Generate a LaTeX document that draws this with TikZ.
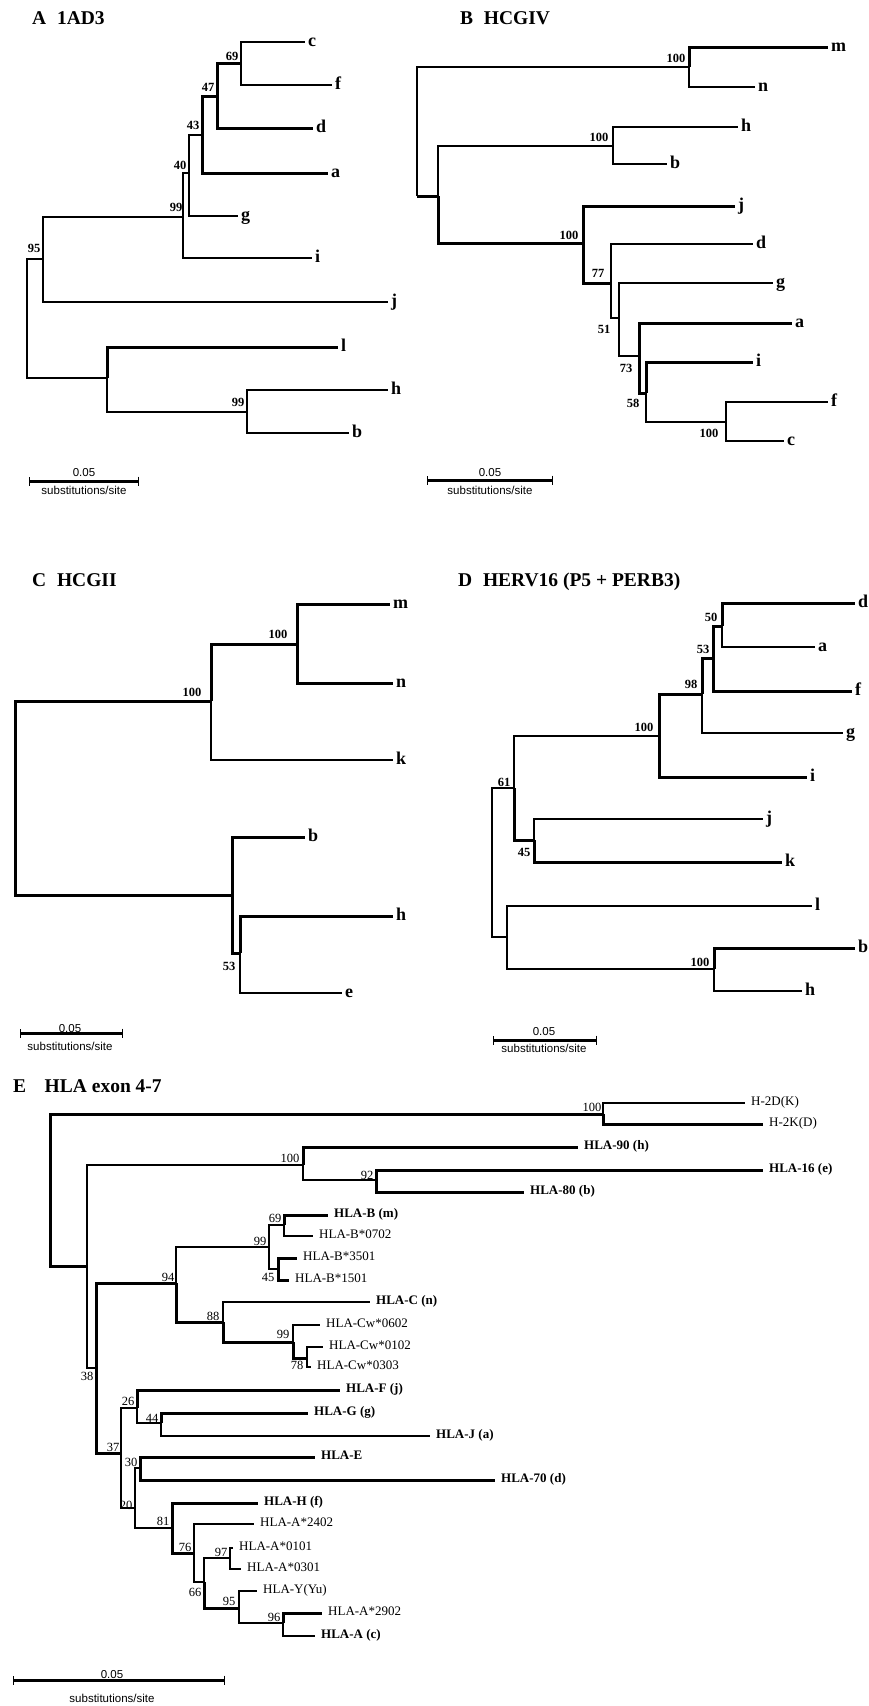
\documentclass[tikz,border=0pt]{standalone}
\usepackage{fontspec}
\setmainfont{Liberation Serif}
\setsansfont{Liberation Sans}
\usetikzlibrary{arrows.meta,positioning}

\tikzset{
  brthin/.style={line width=1.3pt},
  brthick/.style={line width=3pt},
  leaf/.style={anchor=west, inner xsep=3pt, inner ysep=0pt, text height=1.0em, text depth=0.1em, font=\fontsize{18}{18}\selectfont\bfseries},
  hla/.style={anchor=west, inner xsep=6pt, inner ysep=0pt, text height=0.7em, text depth=0.2em, font=\fontsize{13}{13}\selectfont},
  hlab/.style={hla, font=\fontsize{13}{13}\selectfont\bfseries},
  boot/.style={inner sep=0pt, font=\fontsize{12.5}{12.5}\selectfont\bfseries},
  bootE/.style={inner sep=0pt, font=\fontsize{12.5}{12.5}\selectfont},
  panel/.style={anchor=base west, inner sep=0pt, font=\fontsize{19.5}{19.5}\selectfont\bfseries},
  scalebar/.style={line width=3pt, {Bar[width=9pt,line width=1.3pt]}-{Bar[width=9pt,line width=1.3pt]}},
  scaletxt/.style={inner sep=0pt, font=\fontsize{11.5}{11.5}\selectfont\sffamily}
}

\begin{document}
\begin{tikzpicture}[x=1pt,y=-1pt]
  \useasboundingbox (0,0) rectangle (868,1706);

  % A 1AD3
  \node[panel] (tA) at (32,24) {A\hspace{0.55em}1AD3};
  \coordinate (rA) at (27,318);
  \coordinate (A95) at (43,259);
  \coordinate (A99) at (183,217);
  \coordinate (A40) at (189,173);
  \coordinate (A43) at (202,135);
  \coordinate (A47) at (217,96);
  \coordinate (A69) at (241,63);
  \coordinate (Alhb) at (107,378);
  \coordinate (A99b) at (247,412);
  \node[leaf] (Ac) at (305,42) {c};
  \node[leaf] (Af) at (332,85) {f};
  \node[leaf] (Ad) at (313,128) {d};
  \node[leaf] (Aa) at (328,173) {a};
  \node[leaf] (Ag) at (238,216) {g};
  \node[leaf] (Ai) at (312,258) {i};
  \node[leaf] (Aj) at (388,302) {j};
  \node[leaf] (Al) at (338,347) {l};
  \node[leaf] (Ah) at (388,390) {h};
  \node[leaf] (Ab) at (349,433) {b};
  \draw[brthin] (rA) |- (A95);
  \draw[brthin] (rA) |- (Alhb);
  \draw[brthin] (A95) |- (A99);
  \draw[brthin] (A95) |- (Aj.west);
  \draw[brthin] (A99) |- (A40);
  \draw[brthin] (A99) |- (Ai.west);
  \draw[brthin] (A40) |- (A43);
  \draw[brthin] (A40) |- (Ag.west);
  \draw[brthick] (A43) |- (A47);
  \draw[brthick] (A43) |- (Aa.west);
  \draw[brthick] (A47) |- (A69);
  \draw[brthick] (A47) |- (Ad.west);
  \draw[brthin] (A69) |- (Ac.west);
  \draw[brthin] (A69) |- (Af.west);
  \draw[brthick] (Alhb) |- (Al.west);
  \draw[brthin] (Alhb) |- (A99b);
  \draw[brthin] (A99b) |- (Ah.west);
  \draw[brthin] (A99b) |- (Ab.west);
  \node[boot] (lA95) at (34,248) {95};
  \node[boot] (lA99) at (176,207) {99};
  \node[boot] (lA40) at (180,165) {40};
  \node[boot] (lA43) at (193,125) {43};
  \node[boot] (lA47) at (208,87) {47};
  \node[boot] (lA69) at (232,56) {69};
  \node[boot] (lA99b) at (238,402) {99};
  % scale bar A
  \coordinate (sA1) at (29,481);
  \coordinate (sA2) at (139,481);
  \coordinate (sAm) at (84,481);
  \draw[scalebar] (sA1) -- (sA2);
  \node[scaletxt, above=4pt of sAm] (sAv) {0.05};
  \node[scaletxt, below=5pt of sAm] (sAu) {substitutions/site};

  % B HCGIV
  \node[panel] (tB) at (460,24) {B\hspace{0.55em}HCGIV};
  \coordinate (rB) at (417,196);
  \coordinate (Bmn) at (689,67);
  \coordinate (Blow) at (438,196);
  \coordinate (Bhb) at (613,146);
  \coordinate (Bj100) at (583,243);
  \coordinate (B77) at (611,283);
  \coordinate (B51) at (619,318);
  \coordinate (B73) at (639,356);
  \coordinate (B58) at (646,393);
  \coordinate (Bfc) at (726,422);
  \node[leaf] (Bm) at (828,47) {m};
  \node[leaf] (Bn) at (755,87) {n};
  \node[leaf] (Bh) at (738,127) {h};
  \node[leaf] (Bb) at (667,164) {b};
  \node[leaf] (Bj) at (735,206) {j};
  \node[leaf] (Bd) at (753,244) {d};
  \node[leaf] (Bg) at (773,283) {g};
  \node[leaf] (Ba) at (792,323) {a};
  \node[leaf] (Bi) at (753,362) {i};
  \node[leaf] (Bf) at (828,402) {f};
  \node[leaf] (Bc) at (784,441) {c};
  \draw[brthin] (rB) |- (Bmn);
  \draw[brthick] (rB) -- (Blow);
  \draw[brthick] (Bmn) |- (Bm.west);
  \draw[brthin] (Bmn) |- (Bn.west);
  \draw[brthin] (Blow) |- (Bhb);
  \draw[brthick] (Blow) |- (Bj100);
  \draw[brthin] (Bhb) |- (Bh.west);
  \draw[brthin] (Bhb) |- (Bb.west);
  \draw[brthick] (Bj100) |- (Bj.west);
  \draw[brthick] (Bj100) |- (B77);
  \draw[brthin] (B77) |- (Bd.west);
  \draw[brthin] (B77) |- (B51);
  \draw[brthin] (B51) |- (Bg.west);
  \draw[brthin] (B51) |- (B73);
  \draw[brthick] (B73) |- (Ba.west);
  \draw[brthick] (B73) |- (B58);
  \draw[brthick] (B58) |- (Bi.west);
  \draw[brthin] (B58) |- (Bfc);
  \draw[brthin] (Bfc) |- (Bf.west);
  \draw[brthin] (Bfc) |- (Bc.west);
  \node[boot] (lBmn) at (676,58) {100};
  \node[boot] (lBhb) at (599,137) {100};
  \node[boot] (lBj) at (569,235) {100};
  \node[boot] (lB77) at (598,273) {77};
  \node[boot] (lB51) at (604,329) {51};
  \node[boot] (lB73) at (626,368) {73};
  \node[boot] (lB58) at (633,403) {58};
  \node[boot] (lBfc) at (709,433) {100};
  % scale bar B
  \coordinate (sB1) at (427,480);
  \coordinate (sB2) at (553,480);
  \coordinate (sBm) at (490,480);
  \draw[scalebar] (sB1) -- (sB2);
  \node[scaletxt, above=3pt of sBm] (sBv) {0.05};
  \node[scaletxt, below=6pt of sBm] (sBu) {substitutions/site};

  % C HCGII
  \node[panel] (tC) at (32,586) {C\hspace{0.55em}HCGII};
  \coordinate (rC) at (15,798);
  \coordinate (Cup) at (211,701);
  \coordinate (Cmn) at (297,644);
  \coordinate (Clow) at (232,895);
  \coordinate (C53) at (240,953);
  \node[leaf] (Cm) at (390,604) {m};
  \node[leaf] (Cn) at (393,683) {n};
  \node[leaf] (Ck) at (393,760) {k};
  \node[leaf] (Cb) at (305,837) {b};
  \node[leaf] (Ch) at (393,916) {h};
  \node[leaf] (Ce) at (342,993) {e};
  \draw[brthick] (rC) |- (Cup);
  \draw[brthick] (rC) |- (Clow);
  \draw[brthick] (Cup) |- (Cmn);
  \draw[brthin] (Cup) |- (Ck.west);
  \draw[brthick] (Cmn) |- (Cm.west);
  \draw[brthick] (Cmn) |- (Cn.west);
  \draw[brthick] (Clow) |- (Cb.west);
  \draw[brthick] (Clow) |- (C53);
  \draw[brthick] (C53) |- (Ch.west);
  \draw[brthin] (C53) |- (Ce.west);
  \node[boot] (lCup) at (192,692) {100};
  \node[boot] (lCmn) at (278,634) {100};
  \node[boot] (lC53) at (229,966) {53};
  % scale bar C
  \coordinate (sC1) at (20,1033);
  \coordinate (sC2) at (123,1033);
  \coordinate (sCm) at (70,1033);
  \draw[scalebar] (sC1) -- (sC2);
  \node[scaletxt, above=0pt of sCm] (sCv) {0.05};
  \node[scaletxt, below=9pt of sCm] (sCu) {substitutions/site};

  % D HERV16 (P5 + PERB3)
  \node[panel] (tD) at (458,586) {D\hspace{0.55em}HERV16 (P5 + PERB3)};
  \coordinate (rD) at (492,862);
  \coordinate (D61) at (514,788);
  \coordinate (D100) at (659,736);
  \coordinate (D98) at (702,694);
  \coordinate (D53) at (713,658);
  \coordinate (D50) at (722,626);
  \coordinate (D45) at (534,840);
  \coordinate (Dlb) at (507,937);
  \coordinate (Dbh) at (714,969);
  \node[leaf] (Dd) at (855,603) {d};
  \node[leaf] (Da) at (815,647) {a};
  \node[leaf] (Df) at (852,691) {f};
  \node[leaf] (Dg) at (843,733) {g};
  \node[leaf] (Di) at (807,777) {i};
  \node[leaf] (Dj) at (763,819) {j};
  \node[leaf] (Dk) at (782,862) {k};
  \node[leaf] (Dl) at (812,906) {l};
  \node[leaf] (Db) at (855,948) {b};
  \node[leaf] (Dh) at (802,991) {h};
  \draw[brthin] (rD) |- (D61);
  \draw[brthin] (rD) |- (Dlb);
  \draw[brthin] (D61) |- (D100);
  \draw[brthick] (D61) |- (D45);
  \draw[brthick] (D100) |- (D98);
  \draw[brthick] (D100) |- (Di.west);
  \draw[brthick] (D98) |- (D53);
  \draw[brthin] (D98) |- (Dg.west);
  \draw[brthick] (D53) |- (D50);
  \draw[brthick] (D53) |- (Df.west);
  \draw[brthick] (D50) |- (Dd.west);
  \draw[brthin] (D50) |- (Da.west);
  \draw[brthin] (D45) |- (Dj.west);
  \draw[brthick] (D45) |- (Dk.west);
  \draw[brthin] (Dlb) |- (Dl.west);
  \draw[brthin] (Dlb) |- (Dbh);
  \draw[brthick] (Dbh) |- (Db.west);
  \draw[brthin] (Dbh) |- (Dh.west);
  \node[boot] (lD61) at (504,782) {61};
  \node[boot] (lD100) at (644,727) {100};
  \node[boot] (lD98) at (691,684) {98};
  \node[boot] (lD53) at (703,649) {53};
  \node[boot] (lD50) at (711,617) {50};
  \node[boot] (lD45) at (524,852) {45};
  \node[boot] (lDbh) at (700,962) {100};
  % scale bar D
  \coordinate (sD1) at (493,1040);
  \coordinate (sD2) at (597,1040);
  \coordinate (sDm) at (544,1040);
  \draw[scalebar] (sD1) -- (sD2);
  \node[scaletxt, above=4pt of sDm] (sDv) {0.05};
  \node[scaletxt, below=4pt of sDm] (sDu) {substitutions/site};

  % E HLA exon 4-7
  \node[panel] (tE) at (13,1092) {E\hspace{0.95em}HLA exon 4-7};
  \coordinate (rE) at (50,1190);
  \coordinate (EH2) at (603,1114);
  \coordinate (EX) at (87,1266);
  \coordinate (E100) at (303,1165);
  \coordinate (E92) at (376,1180);
  \coordinate (E38) at (96,1368);
  \coordinate (E94) at (176,1283);
  \coordinate (E99B) at (269,1247);
  \coordinate (E69) at (284,1225);
  \coordinate (E45) at (278,1269);
  \coordinate (E88) at (223,1322);
  \coordinate (E99C) at (293,1342);
  \coordinate (E78) at (307,1358);
  \coordinate (E37) at (121,1453);
  \coordinate (E26) at (137,1408);
  \coordinate (E44) at (161,1423);
  \coordinate (E20) at (135,1508);
  \coordinate (E30) at (140,1468);
  \coordinate (E81) at (172,1528);
  \coordinate (E76) at (194,1553);
  \coordinate (E66) at (204,1582);
  \coordinate (E97) at (230,1558);
  \coordinate (E95) at (239,1608);
  \coordinate (E96) at (283,1623);
  \node[hla] (H2DK) at (745,1103) {H-2D(K)};
  \node[hla] (H2KD) at (763,1124) {H-2K(D)};
  \node[hlab] (HLA90) at (578,1147) {HLA-90 (h)};
  \node[hlab] (HLA16) at (763,1170) {HLA-16 (e)};
  \node[hlab] (HLA80) at (524,1192) {HLA-80 (b)};
  \node[hlab] (HLABm) at (328,1215) {HLA-B (m)};
  \node[hla] (B0702) at (313,1236) {HLA-B*0702};
  \node[hla] (B3501) at (297,1258) {HLA-B*3501};
  \node[hla] (B1501) at (289,1280) {HLA-B*1501};
  \node[hlab] (HLACn) at (370,1302) {HLA-C (n)};
  \node[hla] (Cw0602) at (320,1325) {HLA-Cw*0602};
  \node[hla] (Cw0102) at (323,1347) {HLA-Cw*0102};
  \node[hla] (Cw0303) at (311,1367) {HLA-Cw*0303};
  \node[hlab] (HLAFj) at (340,1390) {HLA-F (j)};
  \node[hlab] (HLAGg) at (308,1413) {HLA-G (g)};
  \node[hlab] (HLAJa) at (430,1436) {HLA-J (a)};
  \node[hlab] (HLAE) at (315,1457) {HLA-E};
  \node[hlab] (HLA70) at (495,1480) {HLA-70 (d)};
  \node[hlab] (HLAHf) at (258,1503) {HLA-H (f)};
  \node[hla] (A2402) at (254,1524) {HLA-A*2402};
  \node[hla] (A0101) at (233,1548) {HLA-A*0101};
  \node[hla] (A0301) at (241,1569) {HLA-A*0301};
  \node[hla] (YYu) at (257,1591) {HLA-Y(Yu)};
  \node[hla] (A2902) at (322,1613) {HLA-A*2902};
  \node[hlab] (HLAAc) at (315,1636) {HLA-A (c)};
  \draw[brthick] (rE) |- (EH2);
  \draw[brthick] (rE) |- (EX);
  \draw[brthin] (EH2) |- (H2DK.west);
  \draw[brthick] (EH2) |- (H2KD.west);
  \draw[brthin] (EX) |- (E100);
  \draw[brthin] (EX) |- (E38);
  \draw[brthick] (E100) |- (HLA90.west);
  \draw[brthin] (E100) |- (E92);
  \draw[brthick] (E92) |- (HLA16.west);
  \draw[brthick] (E92) |- (HLA80.west);
  \draw[brthick] (E38) |- (E94);
  \draw[brthick] (E38) |- (E37);
  \draw[brthin] (E94) |- (E99B);
  \draw[brthick] (E94) |- (E88);
  \draw[brthin] (E99B) |- (E69);
  \draw[brthin] (E99B) |- (E45);
  \draw[brthick] (E69) |- (HLABm.west);
  \draw[brthin] (E69) |- (B0702.west);
  \draw[brthick] (E45) |- (B3501.west);
  \draw[brthick] (E45) |- (B1501.west);
  \draw[brthin] (E88) |- (HLACn.west);
  \draw[brthick] (E88) |- (E99C);
  \draw[brthin] (E99C) |- (Cw0602.west);
  \draw[brthick] (E99C) |- (E78);
  \draw[brthin] (E78) |- (Cw0102.west);
  \draw[brthin] (E78) |- (Cw0303.west);
  \draw[brthin] (E37) |- (E26);
  \draw[brthin] (E37) |- (E20);
  \draw[brthick] (E26) |- (HLAFj.west);
  \draw[brthin] (E26) |- (E44);
  \draw[brthick] (E44) |- (HLAGg.west);
  \draw[brthin] (E44) |- (HLAJa.west);
  \draw[brthin] (E20) |- (E30);
  \draw[brthin] (E20) |- (E81);
  \draw[brthick] (E30) |- (HLAE.west);
  \draw[brthick] (E30) |- (HLA70.west);
  \draw[brthick] (E81) |- (HLAHf.west);
  \draw[brthick] (E81) |- (E76);
  \draw[brthin] (E76) |- (A2402.west);
  \draw[brthin] (E76) |- (E66);
  \draw[brthin] (E66) |- (E97);
  \draw[brthick] (E66) |- (E95);
  \draw[brthin] (E97) |- (A0101.west);
  \draw[brthin] (E97) |- (A0301.west);
  \draw[brthin] (E95) |- (YYu.west);
  \draw[brthin] (E95) |- (E96);
  \draw[brthick] (E96) |- (A2902.west);
  \draw[brthin] (E96) |- (HLAAc.west);
  \node[bootE] (lEH2) at (592,1107) {100};
  \node[bootE] (lE100) at (290,1158) {100};
  \node[bootE] (lE92) at (367,1175) {92};
  \node[bootE] (lE69) at (275,1218) {69};
  \node[bootE] (lE99B) at (260,1241) {99};
  \node[bootE] (lE45) at (268,1277) {45};
  \node[bootE] (lE94) at (168,1277) {94};
  \node[bootE] (lE88) at (213,1316) {88};
  \node[bootE] (lE99C) at (283,1334) {99};
  \node[bootE] (lE78) at (297,1365) {78};
  \node[bootE] (lE38) at (87,1376) {38};
  \node[bootE] (lE26) at (128,1401) {26};
  \node[bootE] (lE44) at (152,1418) {44};
  \node[bootE] (lE37) at (113,1447) {37};
  \node[bootE] (lE30) at (131,1462) {30};
  \node[bootE] (lE20) at (126,1505) {20};
  \node[bootE] (lE81) at (163,1521) {81};
  \node[bootE] (lE76) at (185,1547) {76};
  \node[bootE] (lE97) at (221,1552) {97};
  \node[bootE] (lE66) at (195,1592) {66};
  \node[bootE] (lE95) at (229,1601) {95};
  \node[bootE] (lE96) at (274,1617) {96};
  % scale bar E
  \coordinate (sE1) at (13,1680);
  \coordinate (sE2) at (225,1680);
  \coordinate (sEm) at (112,1680);
  \draw[scalebar] (sE1) -- (sE2);
  \node[scaletxt, above=1pt of sEm] (sEv) {0.05};
  \node[scaletxt, below=14pt of sEm] (sEu) {substitutions/site};
\end{tikzpicture}
\end{document}
